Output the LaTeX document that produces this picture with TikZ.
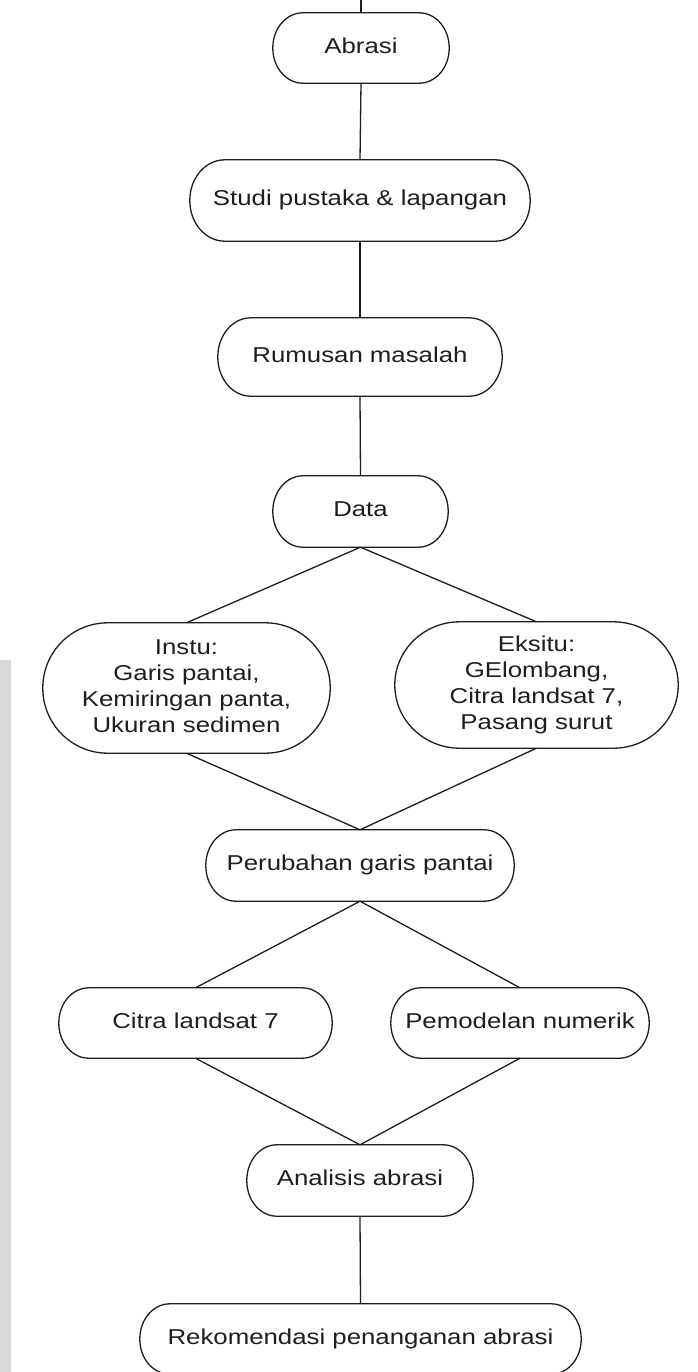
\documentclass[tikz,border=0pt]{standalone}
\usepackage{fontspec}
\setmainfont{Liberation Sans}
\usepackage{graphicx}
\usetikzlibrary{calc}

\definecolor{ink}{HTML}{1E1E1E}
\definecolor{band}{HTML}{D9D9D9}

% widened, centred text block
\newcommand\wt[1]{\raisebox{-2.5pt}{\scalebox{1.2}[1]{\begin{tabular}{@{}c@{}}#1\end{tabular}}}}

% outline of a box with elliptical ends: node name, x radius, y radius
\newcommand\capsule[3]{%
  \draw[link] let \p1=(#1.south west), \p2=(#1.north east) in
    (\x1+#2,\y1) -- (\x2-#2,\y1)
    arc[start angle=-90,end angle=0,x radius=#2,y radius=#3]
    -- (\x2,\y2-#3)
    arc[start angle=0,end angle=90,x radius=#2,y radius=#3]
    -- (\x1+#2,\y2)
    arc[start angle=90,end angle=180,x radius=#2,y radius=#3]
    -- (\x1,\y1+#3)
    arc[start angle=180,end angle=270,x radius=#2,y radius=#3]
    -- cycle;}

\tikzset{
  blk/.style 2 args={rectangle, inner sep=0pt, draw=none, text=ink,
    font=\fontsize{21.5}{26}\selectfont, minimum width=#1, minimum height=#2},
  link/.style={draw=ink, line width=1.3pt},
}

\begin{document}
\begin{tikzpicture}[x=1pt,y=1pt]
\useasboundingbox (0,0) rectangle (698,-1372);
\fill[white] (0,0) rectangle (698,-1372);
\fill[band] (0,-660) rectangle (11,-1372);

% steps of the flow
\node[blk={176pt}{70pt}] (abr) at (361,-48)    {\wt{Abrasi}};
\node[blk={340pt}{81pt}] (stu) at (360,-200.5) {\wt{Studi pustaka \& lapangan}};
\node[blk={284pt}{78pt}] (rum) at (360,-357)   {\wt{Rumusan masalah}};
\node[blk={175pt}{71pt}] (dat) at (360.5,-511.5) {\wt{Data}};
\node[blk={287pt}{130pt}] (ins) at (186.5,-688) {\wt{Instu:\\Garis pantai,\\Kemiringan panta,\\Ukuran sedimen}};
\node[blk={283pt}{126pt}] (eks) at (536.5,-685) {\wt{Eksitu:\\GElombang,\\Citra landsat 7,\\Pasang surut}};
\node[blk={308pt}{71pt}] (per) at (360,-865.5) {\wt{Perubahan garis pantai}};
\node[blk={273pt}{70pt}] (cit) at (195.5,-1023) {\wt{Citra landsat 7}};
\node[blk={258pt}{70pt}] (pem) at (520,-1023)  {\wt{Pemodelan numerik}};
\node[blk={226pt}{71pt}] (ana) at (360,-1180.5) {\wt{Analisis abrasi}};
\node[blk={441pt}{70pt}] (rek) at (360.5,-1339) {\wt{Rekomendasi penanganan abrasi}};
\coordinate (top) at (361,0);

% outlines
\capsule{abr}{30pt}{35pt}
\capsule{stu}{35pt}{40.5pt}
\capsule{rum}{33pt}{39pt}
\capsule{dat}{30pt}{35.5pt}
\capsule{ins}{65pt}{65pt}
\capsule{eks}{65pt}{63pt}
\capsule{per}{30pt}{35.5pt}
\capsule{cit}{30pt}{35pt}
\capsule{pem}{30pt}{35pt}
\capsule{ana}{30pt}{35.5pt}
\capsule{rek}{30pt}{35pt}

% connectors
\draw[link] (top) -- (abr.north);
\draw[link] (abr.south) -- (stu.north);
\draw[link] (stu.south) -- (rum.north);
\draw[link] (rum.south) -- (dat.north);
\draw[link] (dat.south) -- (ins.north);
\draw[link] (dat.south) -- (eks.north);
\draw[link] (ins.south) -- (per.north);
\draw[link] (eks.south) -- (per.north);
\draw[link] (per.south) -- (cit.north);
\draw[link] (per.south) -- (pem.north);
\draw[link] (cit.south) -- (ana.north);
\draw[link] (pem.south) -- (ana.north);
\draw[link] (ana.south) -- (rek.north);
\end{tikzpicture}
\end{document}
